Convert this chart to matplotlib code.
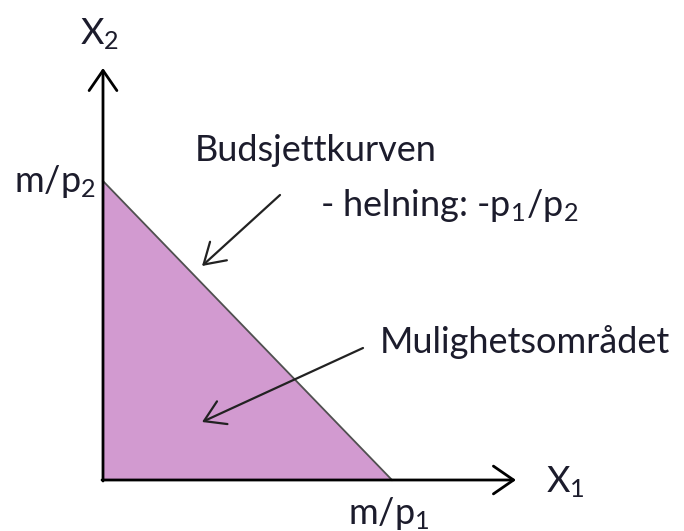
import matplotlib
matplotlib.use("Agg")
import matplotlib.pyplot as plt
from matplotlib.patches import Polygon

plt.rcParams['font.family'] = ['Lato', 'DejaVu Sans']
plt.rcParams['mathtext.fontset'] = 'custom'
plt.rcParams['mathtext.rm'] = 'Lato'
plt.rcParams['mathtext.it'] = 'Lato:italic'
plt.rcParams['mathtext.bf'] = 'Lato:bold'

# Data (units: arbitrary, origin at 0,0)
x_intercept = 2.89   # m/p1
y_intercept = 2.99   # m/p2
x_axis_end = 4.13
y_axis_end = 4.12

text_color = '#1c1c2c'

fig = plt.figure(figsize=(6.84, 5.31), dpi=100)
ax = fig.add_axes([0, 0, 1, 1])
ax.set_xlim(-1.03, 5.81)
ax.set_ylim(-0.51, 4.80)
ax.axis('off')

# feasible region
tri = Polygon([[0, 0], [x_intercept, 0], [0, y_intercept]], closed=True,
              facecolor='#d29ad0', edgecolor='none', zorder=1)
ax.add_patch(tri)
# budget line
ax.plot([0, x_intercept], [y_intercept, 0], color='#505050', lw=1.3, zorder=2)

# axes arrows
arrow_kw = dict(arrowstyle='->,head_length=1.45,head_width=1.0', color='black', lw=2,
                shrinkA=0, shrinkB=0)
ax.annotate('', xy=(0, y_axis_end), xytext=(0, -0.01), arrowprops=arrow_kw, zorder=3)
ax.annotate('', xy=(x_axis_end, 0), xytext=(-0.01, 0), arrowprops=arrow_kw, zorder=3)

fs = 26
ax.text(-0.03, 4.46, r"$\mathrm{X_2}$", fontsize=fs, ha='center', va='center', color=text_color)
ax.text(4.62, -0.02, r"$\mathrm{X_1}$", fontsize=fs, ha='center', va='center', color=text_color)
ax.text(-0.07, 2.98, r"$\mathrm{m/p_2}$", fontsize=fs, ha='right', va='center', color=text_color)
ax.text(2.86, -0.34, r"$\mathrm{m/p_1}$", fontsize=fs, ha='center', va='center', color=text_color)

ax.text(0.92, 3.29, "Budsjettkurven", fontsize=fs, ha='left', va='center', color=text_color)
ax.text(2.17, 2.74, r"- helning: -$\mathrm{p_1/p_2}$", fontsize=fs, ha='left', va='center', color=text_color)
ax.text(2.77, 1.38, "Mulighetsområdet", fontsize=fs, ha='left', va='center', color=text_color)

# pointer arrows
ptr_kw = dict(arrowstyle='->,head_length=1.45,head_width=0.9', color='#222222', lw=1.6,
              shrinkA=0, shrinkB=0)
ax.annotate('', xy=(0.99, 2.14), xytext=(1.77, 2.85), arrowprops=ptr_kw, zorder=4)
ax.annotate('', xy=(0.99, 0.58), xytext=(2.60, 1.32), arrowprops=ptr_kw, zorder=4)

fig.savefig('out.png', dpi=100)
